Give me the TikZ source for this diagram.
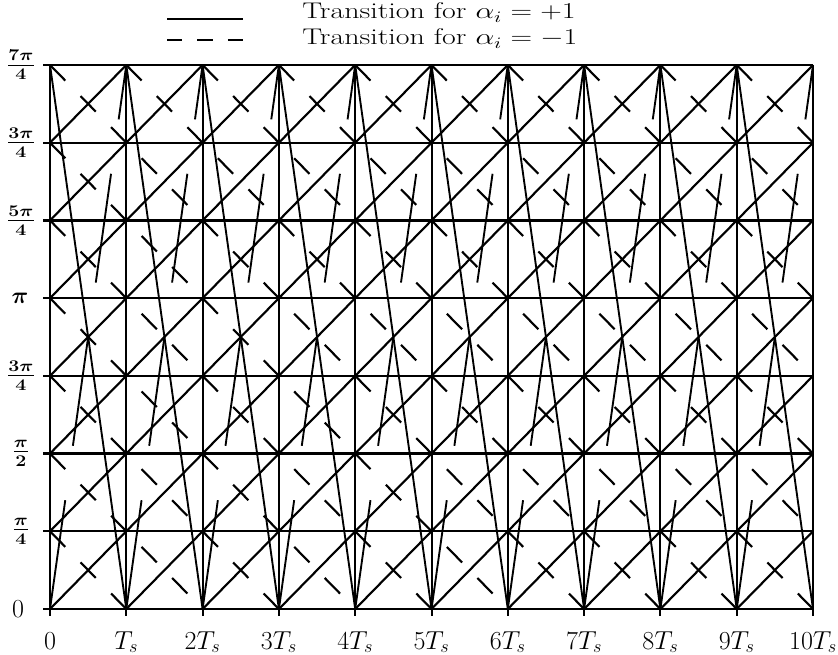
\documentclass[tikz,border=0pt]{standalone}
\usepackage{fix-cm}
\usepackage{graphicx}
\usepackage{amsmath}
\newcommand{\sxw}[2][1.3]{\scalebox{#1}[1]{#2}}
\newcommand{\bm}[1]{{\boldmath$#1$}}
\begin{document}
\begin{tikzpicture}[x=0.75pt,y=-0.75pt,
  gridh/.style={line width=1.75pt},
  gridtop/.style={line width=2.1pt},
  gridv/.style={line width=1.5pt},
  plusline/.style={line width=1.6pt},
  minusline/.style={line width=1.6pt,dash pattern=on 16.34pt off 16.34pt},
  steepplus/.style={line width=1.4pt},
  steepminus/.style={line width=1.4pt,dash pattern=on 82.4pt off 41.2pt},
  legminus/.style={line width=1.7pt,dash pattern=on 11.4pt off 11.4pt},
  xlbl/.style={font=\fontsize{19.5}{22}\selectfont,inner sep=0pt,anchor=base},
  ylbl/.style={font=\fontsize{17.5}{20}\selectfont,inner sep=0pt,anchor=center},
  leg/.style={font=\fontsize{17}{20}\selectfont,inner sep=0pt,anchor=base west}]
\useasboundingbox (0,0) rectangle (838,655);
% grid points
\foreach \k in {0,...,10}{
  \foreach \j in {0,...,7}{
    \coordinate (p-\k-\j) at ({50+76.3*\k},{609-77.714*\j});
  }
}
% grid
\foreach \j in {0,...,6}{\draw[gridh] (p-0-\j) ++(-7,0) -- (p-10-\j);}
\draw[gridtop] (p-0-7) ++(-7,0) -- (p-10-7);
\foreach \k in {0,...,10}{\draw[gridv] (p-\k-7) -- (p-\k-0) -- ++(0,7);}
% solid diagonals (alpha=+1)
\foreach \j in {0,...,6}{\pgfmathtruncatemacro\myE{7-\j}\draw[plusline] (p-0-\j) -- (p-\myE-7);}
\foreach \k in {1,...,9}{\pgfmathtruncatemacro\myE{min(\k+7,10)}\pgfmathtruncatemacro\myL{\myE-\k}\draw[plusline] (p-\k-0) -- (p-\myE-\myL);}
% dashed anti-diagonals (alpha=-1)
\foreach \j in {1,...,7}{\draw[minusline] (p-0-\j) -- (p-\j-0);}
\foreach \k in {1,...,9}{\pgfmathtruncatemacro\myE{min(\k+7,10)}\pgfmathtruncatemacro\myL{7-\myE+\k}\draw[minusline] (p-\k-7) -- (p-\myE-\myL);}
% wrap-around transitions
\foreach \k in {0,...,9}{
  \pgfmathtruncatemacro\myN{\k+1}
  \draw[steepplus] (p-\k-7) -- (p-\myN-0);
  \draw[steepminus] (p-\k-0) -- (p-\myN-7);
}
% legend
\coordinate (la1) at (167,19);
\coordinate (lb1) at (243,19);
\coordinate (la2) at (167,40);
\coordinate (lb2) at (243,40);
\draw[line width=1.7pt] (la1) -- (lb1);
\draw[legminus] (la2) -- (lb2);
\node[leg] (t1) at (302,19) {\sxw[1.32]{Transition for $\alpha_i=+1$}};
\node[leg] (t2) at (302,45) {\sxw[1.32]{Transition for $\alpha_i=-1$}};
% x labels
\foreach \k/\t in {0/0,1/T_s,2/2T_s,3/3T_s,4/4T_s,5/5T_s,6/6T_s,7/7T_s,8/8T_s,9/9T_s,10/10T_s}{
  \path (p-\k-0) ++(0,40) node[xlbl] (xl-\k) {$\t$};
}
% y labels
\path (p-0-0) ++(-32,0) node[xlbl,anchor=center] (yl-0) {$0$};
\foreach \j/\t in {1/\bm{\tfrac{\pi}{4}},2/\bm{\tfrac{\pi}{2}},3/\bm{\tfrac{3\pi}{4}},5/\bm{\tfrac{5\pi}{4}},6/\bm{\tfrac{3\pi}{4}},7/\bm{\tfrac{7\pi}{4}}}{
  \path (p-0-\j) ++(-29,0) node[ylbl] (yl-\j) {\sxw[1.2]{\t}};
}
\path (p-0-4) ++(-30,0) node[ylbl] (yl-4) {\bm{\pi}};
\end{tikzpicture}
\end{document}
